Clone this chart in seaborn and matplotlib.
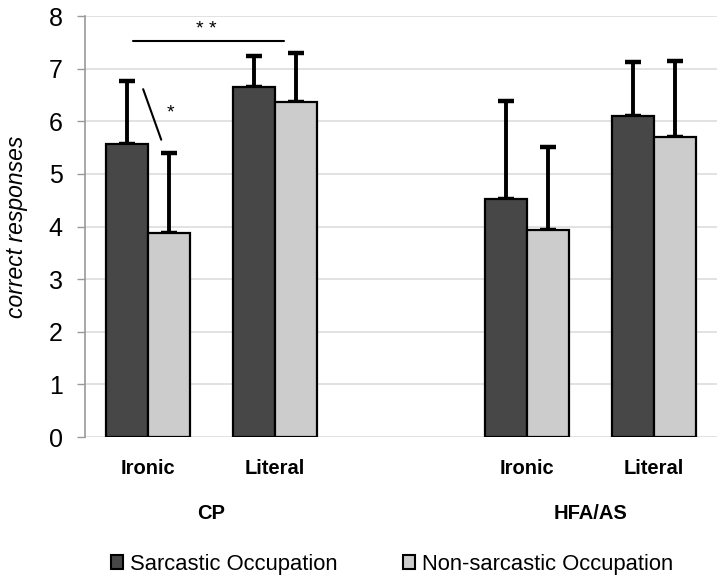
import matplotlib
matplotlib.use('Agg')
import matplotlib.pyplot as plt
from matplotlib.patches import Patch
import pandas as pd
import seaborn as sns

# data
groups = ['CP', 'CP', 'HFA/AS', 'HFA/AS']
items = ['Ironic', 'Literal', 'Ironic', 'Literal']
sarc_mean = [5.57, 6.65, 4.52, 6.10]
sarc_err = [1.20, 0.59, 1.87, 1.02]
non_mean = [3.87, 6.36, 3.94, 5.70]
non_err = [1.53, 0.93, 1.58, 1.45]
occupations = ['Sarcastic Occupation', 'Non-sarcastic Occupation']
colors = ['#474747', '#cccccc']

sns.set_style('white')
plt.rcParams['font.family'] = ['Liberation Sans', 'DejaVu Sans']
plt.rcParams['text.color'] = 'black'
plt.rcParams['axes.labelcolor'] = 'black'

keys = [g + ' ' + i for g, i in zip(groups, items)]
order = keys[:2] + [''] + keys[2:]

rows = []
for k, m, e in zip(keys, sarc_mean, sarc_err):
    rows.append({'cond': k, 'occ': occupations[0], 'mean': m, 'err': e})
for k, m, e in zip(keys, non_mean, non_err):
    rows.append({'cond': k, 'occ': occupations[1], 'mean': m, 'err': e})
df = pd.DataFrame(rows)

fig = plt.figure(figsize=(7.23, 5.81), dpi=100)
ax = fig.add_axes([0.1176, 0.2478, 0.874, 0.7246])

sns.barplot(data=df, x='cond', y='mean', hue='occ', order=order,
            hue_order=occupations, palette=colors, width=0.665,
            edgecolor='black', linewidth=1.6, errorbar=None,
            legend=False, ax=ax, zorder=3)

# upper error bars only
for cont, occ in zip(ax.containers, occupations):
    sub = df[df['occ'] == occ].set_index('cond')
    bars = sorted([b for b in cont if b.get_height() > 0], key=lambda b: b.get_x())
    for b, k in zip(bars, keys):
        xc = b.get_x() + b.get_width() / 2
        ax.errorbar(xc, sub.loc[k, 'mean'], yerr=[[0], [sub.loc[k, 'err']]],
                    fmt='none', ecolor='black', elinewidth=2.8, capsize=5.5,
                    capthick=3.2, zorder=2)

ax.set_ylim(0, 8)
ax.set_xlim(-0.5, 4.5)
ax.set_yticks(range(0, 9))
ax.tick_params(axis='y', labelsize=18, length=6, width=1, color='#999999',
               labelcolor='black', direction='out', left=True, pad=10)
ax.set_xticks([0, 1, 3, 4])
ax.set_xticklabels(items, fontsize=14.5, fontweight='bold')
ax.tick_params(axis='x', length=0, pad=16, labelcolor='black')
ax.set_xlabel('')
ax.set_ylabel('correct responses', fontsize=16.5, fontstyle='italic')
ax.yaxis.set_label_coords(-0.108, 0.5)
ax.yaxis.label.set_va('center')
ax.yaxis.grid(True, color='#dddddd', linewidth=1.2, zorder=0)
ax.set_axisbelow(True)
for s in ['top', 'right', 'bottom']:
    ax.spines[s].set_visible(False)
ax.spines['left'].set_color('#999999')
ax.spines['left'].set_linewidth(1.2)

# group labels
for g, xpos in [('CP', 0.5), ('HFA/AS', 3.5)]:
    ax.text(xpos, -0.1805, g, transform=ax.get_xaxis_transform(), ha='center', va='center',
            fontsize=14.5, fontweight='bold')

# significance marks
ax.plot([-0.119, 1.075], [7.52, 7.52], color='black', linewidth=1.5, zorder=4)
ax.text(0.458, 7.74, '* *', ha='center', va='center', fontsize=14)
ax.plot([-0.04, 0.103], [6.61, 5.65], color='black', linewidth=1.5, zorder=4)
ax.text(0.174, 6.16, '*', ha='center', va='center', fontsize=14)

handles = [Patch(facecolor=c, edgecolor='black', linewidth=1.5) for c in colors]
fig.legend(handles, occupations, loc='center', bbox_to_anchor=(0.542, 0.029), ncol=2,
           frameon=False, fontsize=15.8, handlelength=0.55, handleheight=0.65,
           handletextpad=0.3, columnspacing=3.0, borderpad=0, borderaxespad=0)

fig.savefig('out.png', dpi=100)
